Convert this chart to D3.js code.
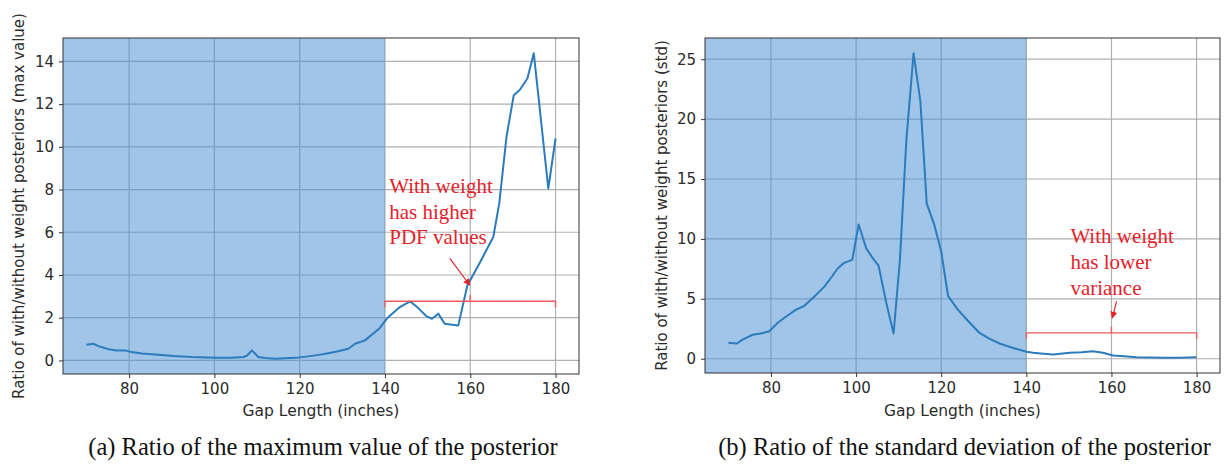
<!DOCTYPE html>
<html>
<head>
<meta charset="utf-8">
<script src="https://cdn.jsdelivr.net/npm/d3@7"></script>
<style>
  html, body { margin: 0; padding: 0; background: #fff; }
  svg { display: block; }
</style>
</head>
<body>
<svg id="fig" width="1228" height="467"></svg>
<script>
// Gap length (inches) and ratio of with/without weight posteriors: maximum value
const maxGap = [70, 71.6, 72.8, 75.2, 77.1, 79.1, 80.6, 83, 86.9, 90.5, 94.7, 100.2, 104, 106.8, 107.6, 108.8, 110.3, 112, 114.2, 116.5, 118.9, 122, 124.5, 126.7, 129, 131.4, 133, 135.3, 137.7, 138.8, 140.4, 141.2, 143.5, 145.9, 147.8, 149.8, 151, 152.5, 154, 157.2, 159.3, 162.3, 165.4, 166.8, 168.5, 170.2, 171.6, 173.4, 174.9, 178.3, 180];
const maxRatio = [0.73, 0.78, 0.67, 0.52, 0.47, 0.47, 0.39, 0.33, 0.27, 0.21, 0.16, 0.12, 0.13, 0.16, 0.22, 0.47, 0.16, 0.11, 0.08, 0.1, 0.12, 0.19, 0.26, 0.34, 0.43, 0.55, 0.78, 0.94, 1.33, 1.52, 1.95, 2.1, 2.5, 2.77, 2.45, 2.06, 1.95, 2.19, 1.72, 1.64, 3.5, 4.6, 5.78, 7.35, 10.47, 12.42, 12.66, 13.2, 14.38, 8.05, 10.39];

// Gap length (inches) and ratio of with/without weight posteriors: standard deviation
const stdGap = [70, 72, 73.3, 75.7, 77.6, 79.6, 81.6, 83.5, 85.9, 87.8, 90.2, 92.5, 94.2, 95.7, 97.2, 99.1, 100.6, 102.4, 103.9, 105.3, 107.1, 108.8, 110.3, 111.8, 113.5, 115.1, 116.6, 118.4, 120, 121.6, 123.9, 126.7, 129, 131.4, 133.7, 136.9, 140, 141.6, 144, 146.3, 150.2, 153, 155.7, 158, 160.4, 163, 165.9, 172.1, 176, 180];
const stdRatio = [1.33, 1.27, 1.6, 2.0, 2.1, 2.3, 3.0, 3.5, 4.1, 4.4, 5.2, 6.0, 6.8, 7.55, 8.0, 8.25, 11.2, 9.2, 8.4, 7.75, 4.65, 2.1, 8.25, 18.2, 25.5, 21.5, 12.95, 11.15, 8.95, 5.25, 4.1, 3.0, 2.15, 1.66, 1.27, 0.9, 0.58, 0.5, 0.42, 0.36, 0.5, 0.55, 0.63, 0.5, 0.27, 0.2, 0.13, 0.08, 0.08, 0.13];

// Tick values
const xTicks = [80, 100, 120, 140, 160, 180];
const maxTicks = [0, 2, 4, 6, 8, 10, 12, 14];
const stdTicks = [0, 5, 10, 15, 20, 25];

// Shaded region ends here; the bracket spans the remaining range
const shadeEnd = 140;
const bracketRange = [140, 180];
const bracketMid = 160;

// Text
const xLabel = "Gap Length (inches)";
const maxYLabel = "Ratio of with/without weight posteriors (max value)";
const stdYLabel = "Ratio of with/without weight posteriors (std)";
const maxNote = ["With weight", "has higher", "PDF values"];
const stdNote = ["With weight", "has lower", "variance"];
const maxCaption = "(a) Ratio of the maximum value of the posterior";
const stdCaption = "(b) Ratio of the standard deviation of the posterior";

const svg = d3.select("#fig");
svg.append("rect").attr("width", 1228).attr("height", 467).attr("fill", "#fff");

const defs = svg.append("defs");
defs.append("marker")
  .attr("id", "redHead")
  .attr("viewBox", "0 0 10 10")
  .attr("refX", 9).attr("refY", 5)
  .attr("markerWidth", 7).attr("markerHeight", 7)
  .attr("markerUnits", "userSpaceOnUse")
  .attr("orient", "auto")
  .append("path").attr("d", "M0,0 L10,5 L0,10 z").attr("fill", "#e5222b");

const LINE = "#2c7bbc";
const RED = "#e5222b";
const INK = "#2b2b2b";

function padded(ext) {
  const p = (ext[1] - ext[0]) * 0.05;
  return [ext[0] - p, ext[1] + p];
}

function panel(cfg) {
  const { left, right, top, bottom, xs, ys, yTicks, yLabel, yLabelX, note, noteAt, bracketY, arrowFrom, arrowTo, caption, clipId } = cfg;
  const x = d3.scaleLinear().domain(padded(d3.extent(xs))).range([left, right]);
  const y = d3.scaleLinear().domain(padded(d3.extent(ys))).range([bottom, top]);
  const g = svg.append("g");

  defs.append("clipPath").attr("id", clipId)
    .append("rect").attr("x", left).attr("y", top).attr("width", right - left).attr("height", bottom - top);

  // Grid
  const grid = g.append("g").attr("stroke", "#b0b0b0").attr("stroke-width", 1.2);
  grid.selectAll("line.gx").data(xTicks).join("line")
    .attr("x1", d => x(d)).attr("x2", d => x(d)).attr("y1", top).attr("y2", bottom);
  grid.selectAll("line.gy").data(yTicks).join("line")
    .attr("x1", left).attr("x2", right).attr("y1", d => y(d)).attr("y2", d => y(d));

  // Shaded span
  g.append("rect")
    .attr("clip-path", `url(#${clipId})`)
    .attr("x", left).attr("y", top)
    .attr("width", x(shadeEnd) - left).attr("height", bottom - top)
    .attr("fill", "#418bd1").attr("fill-opacity", 0.5);

  // Series line
  const pts = xs.map((d, i) => [d, ys[i]]);
  g.append("path")
    .attr("d", d3.line().x(d => x(d[0])).y(d => y(d[1]))(pts))
    .attr("fill", "none").attr("stroke", LINE).attr("stroke-width", 2)
    .attr("stroke-linejoin", "round");

  // Axes frame
  g.append("rect").attr("x", left).attr("y", top).attr("width", right - left).attr("height", bottom - top)
    .attr("fill", "none").attr("stroke", "#333").attr("stroke-width", 1);

  const xAxis = g.append("g").attr("transform", `translate(0,${bottom})`)
    .call(d3.axisBottom(x).tickValues(xTicks).tickSize(4).tickPadding(5).tickFormat(d3.format("d")));
  const yAxis = g.append("g").attr("transform", `translate(${left},0)`)
    .call(d3.axisLeft(y).tickValues(yTicks).tickSize(4).tickPadding(5).tickFormat(d3.format("d")));
  [xAxis, yAxis].forEach(a => {
    a.select(".domain").remove();
    a.selectAll(".tick line").attr("stroke", "#333");
    a.selectAll(".tick text").attr("fill", INK)
      .style("font-family", "'DejaVu Sans', sans-serif").style("font-size", "15px");
  });

  g.append("text")
    .attr("x", (left + right) / 2).attr("y", 416)
    .attr("text-anchor", "middle").attr("fill", INK)
    .style("font-family", "'DejaVu Sans', sans-serif").style("font-size", "15.5px")
    .text(xLabel);

  g.append("text")
    .attr("transform", `translate(${yLabelX},${(top + bottom) / 2}) rotate(-90)`)
    .attr("text-anchor", "middle").attr("dy", "0.35em").attr("fill", INK)
    .style("font-family", "'DejaVu Sans', sans-serif").style("font-size", "15px")
    .text(yLabel);

  // Bracket over the unshaded range
  const by = y(bracketY);
  const bx0 = x(bracketRange[0]), bx1 = x(bracketRange[1]), bm = x(bracketMid);
  g.append("path")
    .attr("d", `M${bx0},${by + 6} V${by} H${bx1} V${by + 6} M${bm},${by} V${by - 6}`)
    .attr("fill", "none").attr("stroke", "#ee5a5f").attr("stroke-width", 1.4);

  // Arrow from note to bracket
  g.append("line")
    .attr("x1", x(arrowFrom[0])).attr("y1", y(arrowFrom[1]))
    .attr("x2", x(arrowTo[0])).attr("y2", y(arrowTo[1]))
    .attr("stroke", RED).attr("stroke-width", 1.2)
    .attr("marker-end", "url(#redHead)");

  // Note text
  const t = g.append("text")
    .attr("x", x(noteAt[0])).attr("y", y(noteAt[1]))
    .attr("fill", RED)
    .style("font-family", "'Liberation Serif', 'Times New Roman', serif").style("font-size", "21px");
  note.forEach((s, i) => {
    t.append("tspan").attr("x", x(noteAt[0])).attr("dy", i === 0 ? 0 : 25.6).text(s);
  });

  // Caption
  g.append("text")
    .attr("x", (left + right) / 2 + 2).attr("y", 455)
    .attr("text-anchor", "middle").attr("fill", "#111")
    .style("font-family", "'Liberation Serif', 'Times New Roman', serif").style("font-size", "24.5px")
    .text(caption);
}

panel({
  left: 63, right: 579, top: 38, bottom: 374,
  xs: maxGap, ys: maxRatio, yTicks: maxTicks,
  yLabel: maxYLabel, yLabelX: 19,
  note: maxNote, noteAt: [141, 7.84],
  bracketY: 2.77, arrowFrom: [155.2, 4.78], arrowTo: [159.9, 3.52],
  caption: maxCaption, clipId: "clipA"
});

panel({
  left: 705, right: 1220, top: 38, bottom: 373,
  xs: stdGap, ys: stdRatio, yTicks: stdTicks,
  yLabel: stdYLabel, yLabelX: 662,
  note: stdNote, noteAt: [150.35, 9.63],
  bracketY: 2.16, arrowFrom: [161.2, 4.78], arrowTo: [160.2, 3.4],
  caption: stdCaption, clipId: "clipB"
});
</script>
</body>
</html>
